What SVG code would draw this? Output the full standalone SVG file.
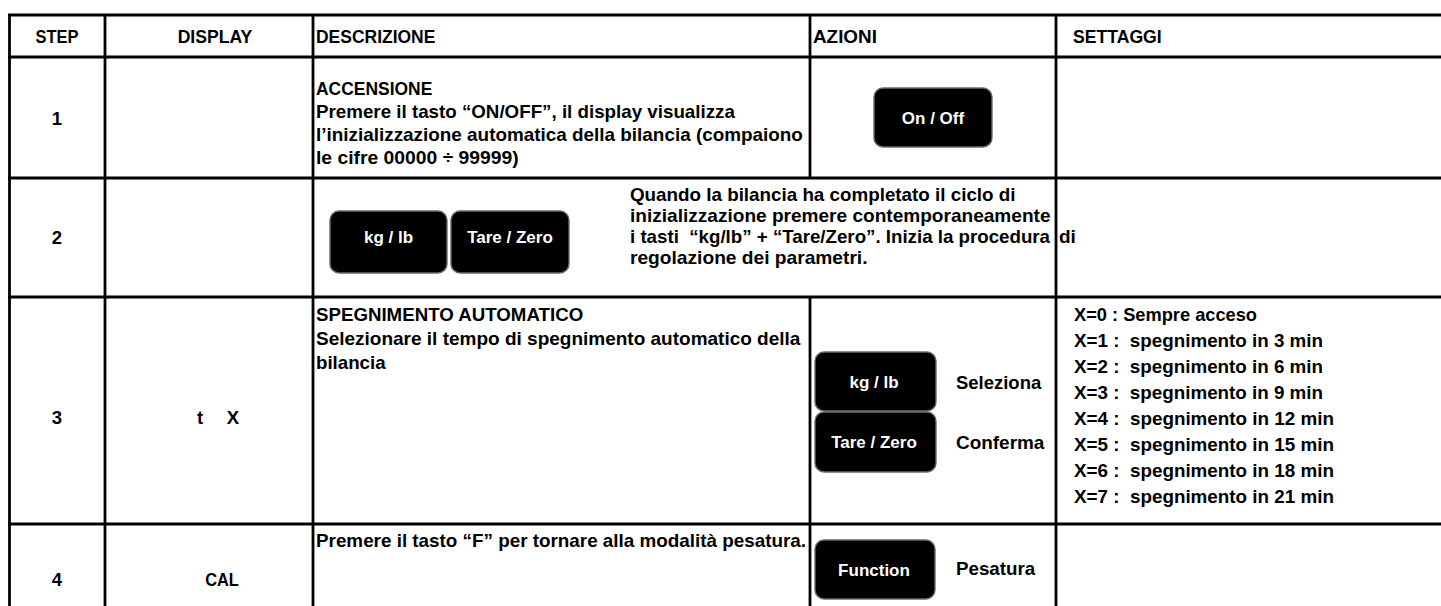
<svg xmlns="http://www.w3.org/2000/svg" width="1441" height="606" viewBox="0 0 1441 606">
<style>
.t{font-family:"Liberation Sans",Arial,sans-serif;font-weight:bold;font-size:18.5px;fill:#000}
.m{text-anchor:middle}
.btn{fill:#000;stroke:#6a6a6a;stroke-width:1.4}
.bt{font-family:"Liberation Sans",Arial,sans-serif;font-weight:bold;font-size:17px;fill:#fff;text-anchor:middle}
.ln{stroke:#000;stroke-width:2.8;fill:none}
</style>
<rect width="1441" height="606" fill="#fff"/>
<g id="grid">
<line class="ln" x1="8" y1="15" x2="1441" y2="15"/>
<line class="ln" x1="8" y1="57" x2="1441" y2="57"/>
<line class="ln" x1="8" y1="178" x2="1441" y2="178"/>
<line class="ln" x1="8" y1="297" x2="1441" y2="297"/>
<line class="ln" x1="8" y1="524" x2="1441" y2="524"/>
<line class="ln" x1="9.5" y1="14" x2="9.5" y2="606"/>
<line class="ln" x1="105" y1="14" x2="105" y2="606"/>
<line class="ln" x1="313" y1="14" x2="313" y2="606"/>
<line class="ln" x1="810" y1="14" x2="810" y2="178"/>
<line class="ln" x1="810" y1="297" x2="810" y2="606"/>
<line class="ln" x1="1056" y1="14" x2="1056" y2="606"/>
</g>
<g id="header">
<text class="t m" x="57" y="43" textLength="43" lengthAdjust="spacingAndGlyphs">STEP</text>
<text class="t m" x="215" y="43" textLength="74.7" lengthAdjust="spacingAndGlyphs">DISPLAY</text>
<text class="t" x="316" y="43" textLength="119.4" lengthAdjust="spacingAndGlyphs">DESCRIZIONE</text>
<text class="t" x="813" y="43" textLength="63.9" lengthAdjust="spacingAndGlyphs">AZIONI</text>
<text class="t" x="1073" y="43" textLength="88.7" lengthAdjust="spacingAndGlyphs">SETTAGGI</text>
</g>
<g id="step1">
<text class="t m" x="57" y="125">1</text>
<text class="t" x="316" y="95" textLength="116.3" lengthAdjust="spacingAndGlyphs">ACCENSIONE</text>
<text class="t" x="316" y="118" textLength="418.9" lengthAdjust="spacingAndGlyphs">Premere il tasto “ON/OFF”, il display visualizza</text>
<text class="t" x="316" y="141" textLength="486.9" lengthAdjust="spacingAndGlyphs">l’inizializzazione automatica della bilancia (compaiono</text>
<text class="t" x="316" y="164" textLength="202.7" lengthAdjust="spacingAndGlyphs">le cifre 00000 ÷ 99999)</text>
<g id="btn-onoff">
<rect class="btn" x="874" y="88" width="118" height="59" rx="9"/>
<text class="bt" x="933" y="123.5">On / Off</text>
</g>
</g>
<g id="step2">
<text class="t m" x="57" y="244">2</text>
<g id="btn-kglb-2">
<rect class="btn" x="330" y="211" width="117" height="62" rx="9"/>
<text class="bt" x="388.5" y="243">kg / lb</text>
</g>
<g id="btn-tare-2">
<rect class="btn" x="451" y="211" width="118" height="62" rx="9"/>
<text class="bt" x="510" y="243">Tare / Zero</text>
</g>
<text class="t" x="630" y="201" textLength="385.5" lengthAdjust="spacingAndGlyphs">Quando la bilancia ha completato il ciclo di</text>
<text class="t" x="630" y="222" textLength="420.5" lengthAdjust="spacingAndGlyphs">inizializzazione premere contemporaneamente</text>
<text class="t" xml:space="preserve" x="630" y="243"><tspan x="630" textLength="420" lengthAdjust="spacingAndGlyphs">i tasti  “kg/lb” + “Tare/Zero”. Inizia la procedura</tspan><tspan x="1059" textLength="16.9" lengthAdjust="spacingAndGlyphs">di</tspan></text>
<text class="t" x="630" y="264" textLength="237.5" lengthAdjust="spacingAndGlyphs">regolazione dei parametri.</text>
</g>
<g id="step3">
<text class="t m" x="57" y="424">3</text>
<text class="t m" y="424"><tspan x="200">t</tspan><tspan x="233">X</tspan></text>
<text class="t" x="316" y="321" textLength="267.2" lengthAdjust="spacingAndGlyphs">SPEGNIMENTO AUTOMATICO</text>
<text class="t" x="316" y="345" textLength="484.4" lengthAdjust="spacingAndGlyphs">Selezionare il tempo di spegnimento automatico della</text>
<text class="t" x="316" y="369" textLength="69.6" lengthAdjust="spacingAndGlyphs">bilancia</text>
<g id="btn-kglb-3">
<rect class="btn" x="815" y="352" width="121" height="59" rx="9"/>
<text class="bt" x="874" y="387.5">kg / lb</text>
</g>
<g id="btn-tare-3">
<rect class="btn" x="815" y="412" width="121" height="60" rx="9"/>
<text class="bt" x="874" y="448">Tare / Zero</text>
</g>
<text class="t" x="956" y="389" textLength="85.2" lengthAdjust="spacingAndGlyphs">Seleziona</text>
<text class="t" x="956" y="449" textLength="88.4" lengthAdjust="spacingAndGlyphs">Conferma</text>
<g id="settings3">
<text class="t" x="1074" y="321" textLength="183" lengthAdjust="spacingAndGlyphs">X=0 : Sempre acceso</text>
<text class="t" xml:space="preserve" x="1074" y="347" textLength="249" lengthAdjust="spacingAndGlyphs">X=1 :  spegnimento in 3 min</text>
<text class="t" xml:space="preserve" x="1074" y="373" textLength="249" lengthAdjust="spacingAndGlyphs">X=2 :  spegnimento in 6 min</text>
<text class="t" xml:space="preserve" x="1074" y="399" textLength="249" lengthAdjust="spacingAndGlyphs">X=3 :  spegnimento in 9 min</text>
<text class="t" xml:space="preserve" x="1074" y="425" textLength="259.9" lengthAdjust="spacingAndGlyphs">X=4 :  spegnimento in 12 min</text>
<text class="t" xml:space="preserve" x="1074" y="451" textLength="259.9" lengthAdjust="spacingAndGlyphs">X=5 :  spegnimento in 15 min</text>
<text class="t" xml:space="preserve" x="1074" y="477" textLength="259.9" lengthAdjust="spacingAndGlyphs">X=6 :  spegnimento in 18 min</text>
<text class="t" xml:space="preserve" x="1074" y="503" textLength="259.9" lengthAdjust="spacingAndGlyphs">X=7 :  spegnimento in 21 min</text>
</g>
</g>
<g id="step4">
<text class="t m" x="57" y="586">4</text>
<text class="t m" x="222" y="586" textLength="33.7" lengthAdjust="spacingAndGlyphs">CAL</text>
<text class="t" x="316" y="547" textLength="490" lengthAdjust="spacingAndGlyphs">Premere il tasto “F” per tornare alla modalità pesatura.</text>
<g id="btn-function">
<rect class="btn" x="815" y="540" width="120" height="59" rx="9"/>
<text class="bt" x="874" y="575.5">Function</text>
</g>
<text class="t" x="956" y="575" textLength="79.2" lengthAdjust="spacingAndGlyphs">Pesatura</text>
</g>
</svg>
